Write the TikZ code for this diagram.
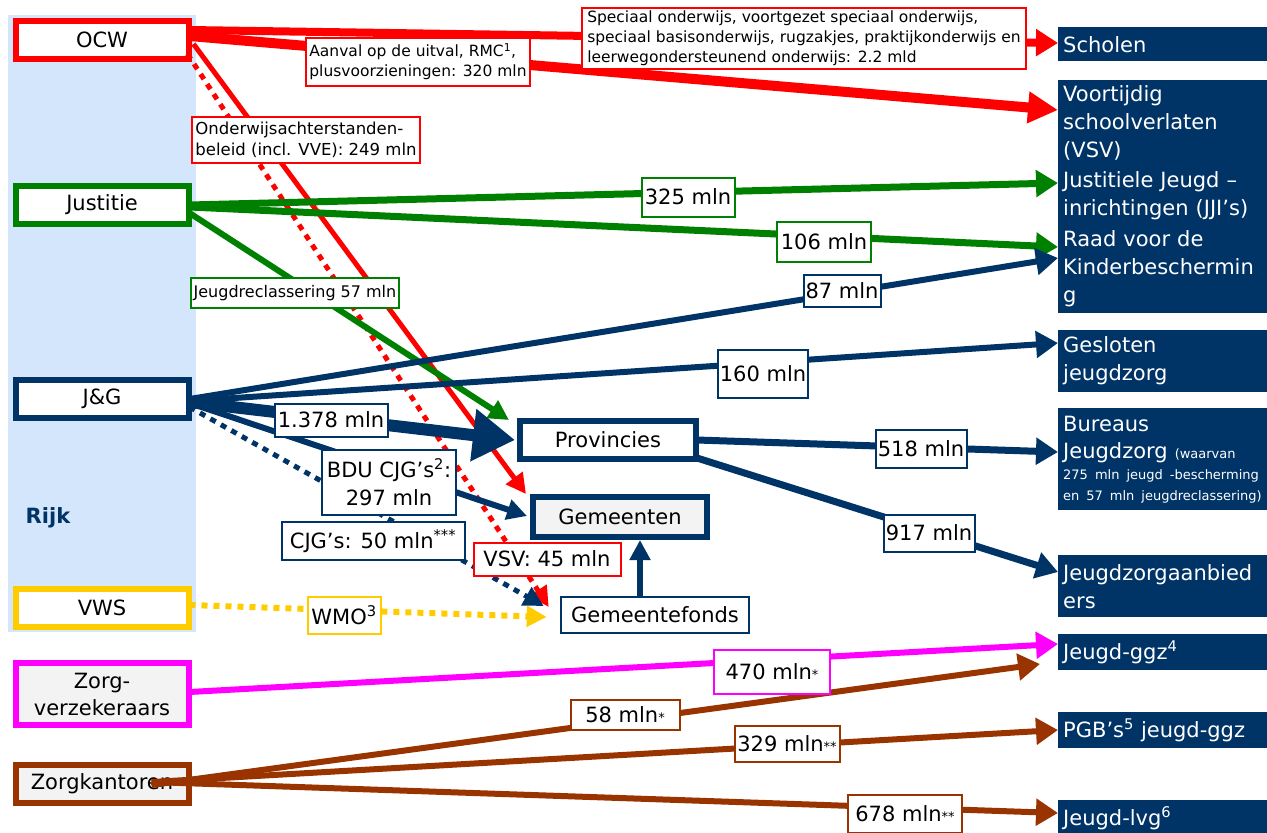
\documentclass[tikz,border=0pt]{standalone}
\usepackage{fontspec}
\setmainfont{DejaVu Sans}
\usetikzlibrary{arrows.meta,calc}
\definecolor{navy}{RGB}{0,51,102}
\definecolor{ocwred}{RGB}{255,0,0}
\definecolor{jgreen}{RGB}{0,128,0}
\definecolor{vwsyellow}{RGB}{255,204,0}
\definecolor{zmag}{RGB}{255,0,255}
\definecolor{zbrown}{RGB}{153,51,0}
\definecolor{rijkblue}{RGB}{212,230,252}
\definecolor{boxgrey}{RGB}{243,243,243}
\begin{document}
\begin{tikzpicture}[x=1pt,y=-1pt,
  src/.style={draw, line width=6pt, fill=white, minimum width=173pt, minimum height=38pt, inner sep=0pt, align=center, font=\fontsize{21}{27}\selectfont},
  tgt/.style={fill=navy, text=white, anchor=north west, minimum width=209pt, text width=199pt, align=left, inner sep=5pt, font=\fontsize{21}{28}\selectfont},
  midbox/.style={draw=navy, line width=6pt, inner sep=0pt, font=\fontsize{21}{25}\selectfont},
  lbl/.style={draw, line width=2pt, fill=white, inner sep=2pt, align=center, font=\fontsize{21}{28}\selectfont},
  slbl/.style={draw, line width=2pt, fill=white, inner sep=3pt, align=left, font=\fontsize{15.5}{20}\selectfont},
  flow/.style={line width=#1},
  tipA/.style={-{Triangle[length=22pt,width=26pt]}},
  tipB/.style={-{Triangle[length=30pt,width=30pt]}},
  tipC/.style={-{Triangle[length=20pt,width=20pt]}},
  tipBig/.style={-{Triangle[length=42pt,width=50pt]}},
  dots/.style={dash pattern=on 6pt off 6pt}
]
\useasboundingbox (0,0) rectangle (1267,833);
\fill[rijkblue] (8,15) rectangle (196,632);
\node[text=navy, font=\bfseries\fontsize{21}{24}\selectfont] (rijk) at (48,518) {Rijk};

% source boxes
\node[src, draw=ocwred] (OCW) at (102,40) {OCW};
\node[src, draw=jgreen] (JUS) at (102,205) {Justitie};
\node[src, draw=navy] (JG) at (102,399) {J\&G};
\node[src, draw=vwsyellow] (VWS) at (102,608) {VWS};
\node[src, draw=zmag, fill=boxgrey, minimum height=62pt] (ZV) at (102,694) {Zorg-\\verzekeraars};
\node[src, draw=zbrown, fill=boxgrey] (ZK) at (102,784) {Zorgkantoren};

% target boxes
\node[tgt, minimum height=34pt] (SCH) at (1058,27) {Scholen};
\node[tgt, minimum height=52pt] (JJI) at (1058,166) {Justitiele Jeugd –\\inrichtingen (JJI’s)};
\node[tgt, minimum height=86pt] (VSV) at (1058,80) {Voortijdig\\schoolverlaten\\(VSV)};
\node[tgt, minimum height=88pt] (RAAD) at (1058,225) {Raad voor de\\Kinderbeschermin\\g};
\node[tgt, minimum height=62pt] (GES) at (1058,330) {Gesloten\\jeugdzorg};
\node[tgt, minimum height=102pt, font=\fontsize{21}{27}\selectfont] (BJZ) at (1058,408) {Bureaus\\\mbox{Jeugdzorg {\fontsize{13}{16}\selectfont (waarvan}}\\[-6pt]\mbox{\fontsize{13}{21}\selectfont 275 mln jeugd -bescherming}\\[-6pt]\mbox{\fontsize{13}{21}\selectfont en 57 mln jeugdreclassering)}};
\node[tgt, minimum height=62pt] (JZA) at (1058,555) {Jeugdzorgaanbied\\ers};
\node[tgt, minimum height=36pt] (GGZ) at (1058,634) {Jeugd-ggz\textsuperscript{4}};
\node[tgt, minimum height=36pt] (PGB) at (1058,712) {PGB’s\textsuperscript{5} jeugd-ggz};
\node[tgt, minimum height=36pt] (LVG) at (1058,800) {Jeugd-lvg\textsuperscript{6}};

% middle boxes
\node[midbox, fill=white, minimum width=176pt, minimum height=38pt] (PROV) at (608,440) {Provincies};
\node[midbox, fill=boxgrey, minimum width=174pt, minimum height=40pt] (GEM) at (620,517) {Gemeenten};
\node[draw=navy, line width=2.5pt, fill=white, minimum width=188pt, minimum height=36pt, inner sep=0pt, font=\fontsize{21}{25}\selectfont] (GF) at (655,615) {Gemeentefonds};

% OCW flows
\draw[ocwred, flow=8pt, tipA] ($(OCW.east)+(-2,-10)$) -- ($(SCH.north west)+(0,16)$);
\draw[ocwred, flow=10pt, tipB] ($(OCW.east)+(-2,-4)$) -- ($(VSV.north west)+(0,30)$);
\draw[ocwred, flow=5pt, dots, tipC] ($(OCW.south east)+(-4,-8)$) -- ($(GF.west)+(-11,-8)$);
\draw[ocwred, flow=5pt, tipC] ($(OCW.east)+(2,4)$) -- ($(GEM.north west)+(-4,0)$);

% Justitie flows
\draw[jgreen, flow=7pt, tipA] ($(JUS.east)+(-2,0)$) -- ($(JJI.north west)+(0,17)$);
\draw[jgreen, flow=7pt, tipA] ($(JUS.east)+(-2,2)$) -- ($(RAAD.north west)+(0,22)$);
\draw[jgreen, flow=6pt, tipC] ($(JUS.east)+(-2,8)$) -- ($(PROV.north west)+(-8,2)$);

% J&G flows
\draw[navy, flow=6pt, tipA] ($(JG.east)+(-2,0)$) -- ($(RAAD.north west)+(0,33)$);
\draw[navy, flow=6pt, tipA] ($(JG.east)+(-2,2)$) -- ($(GES.north west)+(0,13)$);
\draw[navy, flow=12pt, tipBig] ($(JG.east)+(-2,3)$) -- ($(PROV.west)+(-2,0)$);
\draw[navy, flow=6pt, tipC] ($(JG.east)+(-2,4)$) -- ($(GEM.west)+(-3,-1)$);
\draw[navy, flow=5pt, dots, tipC] ($(JG.east)+(-2,8)$) -- ($(GF.west)+(-16,-9)$);

% VWS flow
\draw[vwsyellow, flow=6pt, dots, tipC] ($(VWS.east)+(-2,-3)$) -- ($(GF.west)+(-13,2)$);

% Provincies flows
\draw[navy, flow=7pt, tipA] ($(PROV.east)+(-2,0)$) -- ($(BJZ.north west)+(0,44)$);
\draw[navy, flow=7pt, tipA] ($(PROV.south east)+(-2,-4)$) -- ($(JZA.north west)+(0,17)$);

% Gemeentefonds -> Gemeenten
\draw[navy, flow=6pt, tipC] ($(GF.north)+(-15,0)$) -- ($(GEM.south)+(20,0)$);

% zorg flows
\draw[zmag, flow=6pt, tipA] ($(ZV.east)+(-2,-2)$) -- ($(GGZ.north west)+(0,10)$);
\draw[zbrown, flow=6pt, tipA] ($(ZK.east)+(-40,1)$) -- ($(GGZ.north west)+(-18,30)$);
\draw[zbrown, flow=6pt, tipA] ($(ZK.east)+(-40,-2)$) -- ($(PGB.north west)+(0,18)$);
\draw[zbrown, flow=6pt, tipA] ($(ZK.east)+(-40,-2)$) -- ($(LVG.north west)+(0,13)$);

% labels
\node[slbl, draw=ocwred, minimum width=442pt, minimum height=60pt, inner xsep=5pt] (LSPEC) at (804,38) {Speciaal onderwijs, voortgezet speciaal onderwijs,\\speciaal basisonderwijs, rugzakjes, praktijkonderwijs en\\leerwegondersteunend onderwijs: 2.2 mld};
\node[slbl, draw=ocwred, minimum width=220pt, minimum height=48pt] (LAAN) at (418,62) {Aanval op de uitval, RMC\textsuperscript{1},\\plusvoorzieningen: 320 mln};
\node[slbl, draw=ocwred, minimum width=227pt, minimum height=46pt, font=\fontsize{16.5}{21}\selectfont] (LOND) at (306,140) {Onderwijsachterstanden-\\beleid (incl. VVE): 249 mln};
\node[slbl, draw=jgreen, minimum width=200pt, minimum height=30pt, font=\fontsize{16}{20}\selectfont] (LREC) at (295,293) {Jeugdreclassering 57 mln};
\node[lbl, draw=jgreen, minimum width=93pt, minimum height=39pt] (L325) at (688,197) {325 mln};
\node[lbl, draw=jgreen, minimum width=94pt, minimum height=40pt] (L106) at (824,242) {106 mln};
\node[lbl, draw=navy, minimum width=75pt, minimum height=32pt] (L87) at (842,291) {87 mln};
\node[lbl, draw=navy, minimum width=90pt, minimum height=48pt] (L160) at (763,374) {160 mln};
\node[lbl, draw=navy, minimum width=113pt, minimum height=33pt] (L1378) at (331,420) {1.378 mln};
\node[lbl, draw=navy, minimum width=134pt, minimum height=65pt] (LBDU) at (389,482) {BDU CJG’s\textsuperscript{2}:\\297 mln};
\node[lbl, draw=navy, minimum width=183pt, minimum height=38pt] (LCJG) at (373,541) {CJG’s: 50 mln\textsuperscript{***}};
\node[lbl, draw=ocwred, minimum width=147pt, minimum height=33pt] (LVSV) at (547,559) {VSV: 45 mln};
\node[lbl, draw=vwsyellow, minimum width=73pt, minimum height=37pt] (LWMO) at (344,615) {WMO\textsuperscript{3}};
\node[lbl, draw=navy, minimum width=91pt, minimum height=38pt] (L518) at (921,449) {518 mln};
\node[lbl, draw=navy, minimum width=91pt, minimum height=37pt] (L917) at (929,533) {917 mln};
\node[lbl, draw=zmag, minimum width=116pt, minimum height=44pt] (L470) at (772,672) {470 mln{\fontsize{13}{13}\selectfont *}};
\node[lbl, draw=zbrown, minimum width=109pt, minimum height=30pt] (L58) at (625,715) {58 mln{\fontsize{13}{13}\selectfont *}};
\node[lbl, draw=zbrown, minimum width=105pt, minimum height=36pt] (L329) at (787,744) {329 mln{\fontsize{13}{13}\selectfont **}};
\node[lbl, draw=zbrown, minimum width=114pt, minimum height=38pt] (L678) at (905,814) {678 mln{\fontsize{13}{13}\selectfont **}};
\end{tikzpicture}
\end{document}
